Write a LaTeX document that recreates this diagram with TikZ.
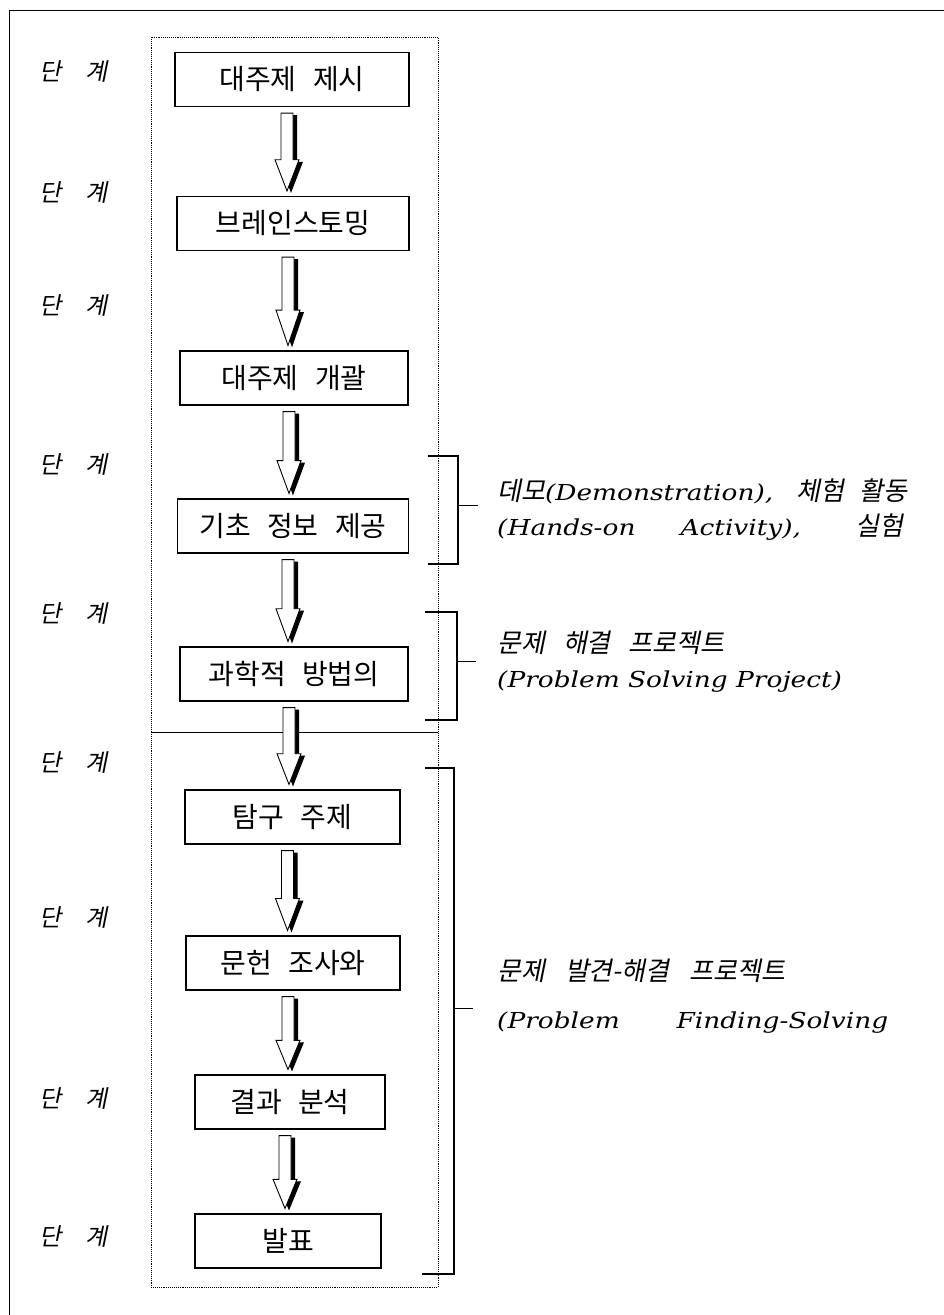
\documentclass[tikz,border=0pt]{standalone}
\usepackage{fontspec}
\usetikzlibrary{calc}
\newfontfamily\kr{Noto Sans CJK KR}[WordSpace=2.6]
\newfontfamily\kit{Noto Sans CJK KR}[FakeSlant=0.2]
\newfontfamily\lit{DejaVu Serif}[FakeStretch=1.2]
\tikzset{
  stagebox/.style={draw, line width=1.1pt, fill=white, minimum height=54pt, inner sep=0pt, font=\kr\fontsize{28}{32}\selectfont},
  stagelbl/.style={font=\kit\fontsize{24}{28}\selectfont, inner sep=0pt},
  brk/.style={line width=1.1pt},
  note/.style={anchor=base west, inner sep=0pt, font=\fontsize{22}{26}\selectfont},
}
\newcommand\ko[1]{{\kit\fontsize{26}{30}\selectfont #1}}
\newcommand\gap[1]{\hspace{0pt plus #1fil}}
\newcommand\blockarrow[2]{%
  \path[fill=black] let \p1=(#1.south), \p2=(#2.north),
      \n1={\y1-6pt}, \n2={\y2+5pt}, \n3={\y1-6pt-0.6*(\y1-\y2-11pt)}, \n4={\x1-1pt} in
    ({\n4-6pt},{\n1-2pt}) -- ({\n4+6pt},{\n1-2pt}) -- ({\n4+6pt},{\n3-2pt}) -- ({\n4+12pt},{\n3-2pt})
    -- ({\n4},{\n2-2pt}) -- ({\n4-12pt},{\n3-2pt}) -- ({\n4-6pt},{\n3-2pt}) -- cycle;
  \path[draw, fill=white, line width=0.9pt] let \p1=(#1.south), \p2=(#2.north),
      \n1={\y1-6pt}, \n2={\y2+5pt}, \n3={\y1-6pt-0.6*(\y1-\y2-11pt)}, \n4={\x1-5pt} in
    ({\n4-6pt},{\n1}) -- ({\n4+6pt},{\n1}) -- ({\n4+6pt},{\n3}) -- ({\n4+12pt},{\n3})
    -- ({\n4},{\n2}) -- ({\n4-12pt},{\n3}) -- ({\n4-6pt},{\n3}) -- cycle;
}
\begin{document}
\begin{tikzpicture}[x=1pt,y=-1pt]
\useasboundingbox (0,0) rectangle (944,1315);
% outer frame (cropped)
\draw[line width=1pt] (9,1315) -- (9,10) -- (944,10);
% dotted frame and separator
\draw[densely dotted, line width=0.9pt] (151,37) rectangle (438,1287);
\draw[line width=0.6pt] (151,732) -- (438,732);

% boxes
\node[stagebox, minimum width=234pt] (b1) at (292,79.5) {대주제 제시};
\node[stagebox, minimum width=232pt] (b2) at (293,223.5) {브레인스토밍};
\node[stagebox, minimum width=228pt] (b3) at (294,378) {대주제 개괄};
\node[stagebox, minimum width=231pt] (b4) at (293,526) {기초 정보 제공};
\node[stagebox, minimum width=228pt] (b5) at (294,674) {과학적 방법의};
\node[stagebox, minimum width=215pt] (b6) at (292.5,817) {탐구 주제};
\node[stagebox, minimum width=214pt] (b7) at (293,963) {문헌 조사와};
\node[stagebox, minimum width=190pt] (b8) at (290,1102) {결과 분석};
\node[stagebox, minimum width=186pt] (b9) at (288,1241) {발표};

% arrows
\blockarrow{b1}{b2}
\blockarrow{b2}{b3}
\blockarrow{b3}{b4}
\blockarrow{b4}{b5}
\blockarrow{b5}{b6}
\blockarrow{b6}{b7}
\blockarrow{b7}{b8}
\blockarrow{b8}{b9}

% stage labels
\node[stagelbl] (l1) at (74,72) {단\hspace{24pt}계};
\node[stagelbl] (l2) at (74,193) {단\hspace{24pt}계};
\node[stagelbl] (l3) at (74,306) {단\hspace{24pt}계};
\node[stagelbl] (l4) at (74,465) {단\hspace{24pt}계};
\node[stagelbl] (l5) at (74,614) {단\hspace{24pt}계};
\node[stagelbl] (l6) at (74,763) {단\hspace{24pt}계};
\node[stagelbl] (l7) at (74,917) {단\hspace{24pt}계};
\node[stagelbl] (l8) at (74,1098) {단\hspace{24pt}계};
\node[stagelbl] (l9) at (74,1236) {단\hspace{24pt}계};

% brackets
\draw[brk] (428,456) -- (458,456) -- (458,564) -- (428,564);
\draw[line width=0.8pt] (458,505) -- (478,505);
\draw[brk] (425,612) -- (457,612) -- (457,720) -- (425,720);
\draw[line width=0.8pt] (457,661) -- (476,661);
\draw[brk] (425,768) -- (454,768) -- (454,1274) -- (422,1274);
\draw[line width=0.8pt] (454,1008) -- (473,1008);

% notes
\node[note] (t1a) at (497,500) {\hbox to 410pt{\ko{데모}{\lit\itshape(Demonstration),}\gap{3}\ko{체험}\gap{2}\ko{활동}}};
\node[note] (t1b) at (497,535) {\makebox[406pt][s]{\lit\itshape (Hands-on Activity), \ko{실험}}};
\node[note] (t2a) at (497,652) {\ko{문제\hspace{18pt}해결\hspace{18pt}프로젝트}};
\node[note] (t2b) at (497,687) {\lit\itshape (Problem Solving Project)};
\node[note] (t3a) at (497,980) {\ko{문제\hspace{20pt}발견-해결\hspace{20pt}프로젝트}};
\node[note] (t3b) at (497,1028) {\makebox[391pt][s]{\lit\itshape (Problem Finding-Solving}};
\end{tikzpicture}
\end{document}
